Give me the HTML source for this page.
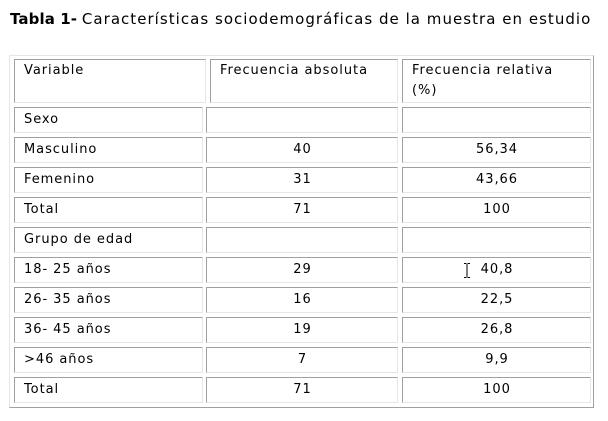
<!DOCTYPE html>
<html><head><meta charset="utf-8"><style>
html,body{margin:0;padding:0;background:#fff;width:608px;height:421px;overflow:hidden}
body{position:relative;font-family:"DejaVu Sans","Liberation Sans",sans-serif;color:#000}
.title{position:absolute;left:10px;top:9px;font-size:15px;line-height:20px;white-space:nowrap}
.title b{font-weight:bold;letter-spacing:0.1px}
.title span{letter-spacing:1.03px}
.outer{position:absolute;left:9px;top:55px;width:585px;height:353px;box-sizing:border-box;border:1px solid;border-color:#e6e6e6 #a0a0a0 #a0a0a0 #e6e6e6}
.c{position:absolute;box-sizing:border-box;border:1px solid;border-color:#a0a0a0 #e6e6e6 #e6e6e6 #a0a0a0;font-size:13px;line-height:16px;padding:4px 0 0 9px;white-space:nowrap;letter-spacing:0.95px}
.n{text-align:center;padding-left:1px}
.h{line-height:20px;padding-top:1px}
</style></head><body>
<div class="title"><b>Tabla 1-</b> <span>Características sociodemográficas de la muestra en estudio</span></div>
<div class="outer"></div>

<div class="c h" style="left:14px;top:59px;width:192px;height:44px">Variable</div>
<div class="c h" style="left:210px;top:59px;width:188px;height:44px">Frecuencia absoluta</div>
<div class="c h" style="left:402px;top:59px;width:189px;height:44px">Frecuencia relativa<br>(%)</div>

<div class="c" style="left:14px;top:107px;width:189px;height:26px">Sexo</div>
<div class="c n" style="left:206px;top:107px;width:192px;height:26px"></div>
<div class="c n" style="left:402px;top:107px;width:189px;height:26px"></div>

<div class="c" style="left:14px;top:137px;width:189px;height:26px">Masculino</div>
<div class="c n" style="left:206px;top:137px;width:192px;height:26px">40</div>
<div class="c n" style="left:402px;top:137px;width:189px;height:26px">56,34</div>

<div class="c" style="left:14px;top:167px;width:189px;height:26px">Femenino</div>
<div class="c n" style="left:206px;top:167px;width:192px;height:26px">31</div>
<div class="c n" style="left:402px;top:167px;width:189px;height:26px">43,66</div>

<div class="c" style="left:14px;top:197px;width:189px;height:26px">Total</div>
<div class="c n" style="left:206px;top:197px;width:192px;height:26px">71</div>
<div class="c n" style="left:402px;top:197px;width:189px;height:26px">100</div>

<div class="c" style="left:14px;top:227px;width:189px;height:26px">Grupo de edad</div>
<div class="c n" style="left:206px;top:227px;width:192px;height:26px"></div>
<div class="c n" style="left:402px;top:227px;width:189px;height:26px"></div>

<div class="c" style="left:14px;top:257px;width:189px;height:26px">18- 25 años</div>
<div class="c n" style="left:206px;top:257px;width:192px;height:26px">29</div>
<div class="c n" style="left:402px;top:257px;width:189px;height:26px">40,8</div>

<div class="c" style="left:14px;top:287px;width:189px;height:26px">26- 35 años</div>
<div class="c n" style="left:206px;top:287px;width:192px;height:26px">16</div>
<div class="c n" style="left:402px;top:287px;width:189px;height:26px">22,5</div>

<div class="c" style="left:14px;top:317px;width:189px;height:26px">36- 45 años</div>
<div class="c n" style="left:206px;top:317px;width:192px;height:26px">19</div>
<div class="c n" style="left:402px;top:317px;width:189px;height:26px">26,8</div>

<div class="c" style="left:14px;top:347px;width:189px;height:26px">&gt;46 años</div>
<div class="c n" style="left:206px;top:347px;width:192px;height:26px">7</div>
<div class="c n" style="left:402px;top:347px;width:189px;height:26px">9,9</div>

<div class="c" style="left:14px;top:377px;width:189px;height:26px">Total</div>
<div class="c n" style="left:206px;top:377px;width:192px;height:26px">71</div>
<div class="c n" style="left:402px;top:377px;width:189px;height:26px">100</div>

<svg style="position:absolute;left:462px;top:262px" width="10" height="17" viewBox="0 0 10 17">
<path d="M2 1.5h2M6 1.5h2M5 2v13M2 15.5h2M6 15.5h2M4.5 1.5h1M4.5 15.5h1" stroke="#000" stroke-width="1" fill="none"/>
</svg>
</body></html>
